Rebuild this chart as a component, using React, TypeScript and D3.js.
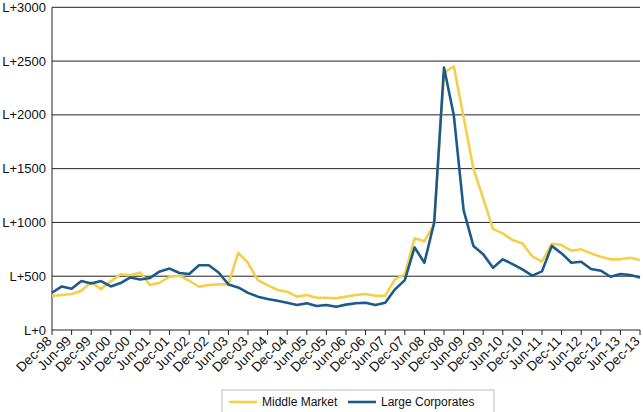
import React from "react";
import * as d3 from "d3";

const tickLabels = [
  "Dec-98","Jun-99","Dec-99","Jun-00","Dec-00","Jun-01","Dec-01","Jun-02","Dec-02","Jun-03",
  "Dec-03","Jun-04","Dec-04","Jun-05","Dec-05","Jun-06","Dec-06","Jun-07","Dec-07","Jun-08",
  "Dec-08","Jun-09","Dec-09","Jun-10","Dec-10","Jun-11","Dec-11","Jun-12","Dec-12","Jun-13","Dec-13",
];

const yTicks = [0, 500, 1000, 1500, 2000, 2500, 3000];

// quarterly observations, Dec-98 .. Dec-13
const middleMarket = [
  316, 325, 334, 365, 445, 380, 452, 518, 508, 534,
  418, 440, 495, 505, 458, 402, 418, 424, 424, 718,
  625, 464, 418, 372, 356, 310, 325, 300, 300, 294,
  310, 325, 334, 319, 319, 471, 517, 852, 825, 985,
  2390, 2452, 1980, 1500, 1225, 938, 898, 836, 805, 685,
  635, 802, 790, 737, 750, 712, 681, 657, 657, 672, 650,
];

const largeCorporates = [
  346, 405, 384, 455, 433, 455, 405, 436, 489, 470,
  484, 545, 571, 530, 520, 602, 602, 535, 424, 396,
  345, 310, 288, 272, 254, 232, 248, 223, 232, 217,
  236, 248, 254, 232, 254, 378, 464, 768, 625, 1000,
  2440, 1997, 1115, 782, 705, 578, 657, 613, 564, 506,
  545, 782, 712, 625, 635, 567, 551, 495, 520, 511, 489,
];

const seriesNames = ["Middle Market", "Large Corporates"];
const colors = ["#F5CF47", "#1C5A8A"];

const W = 643;
const H = 412;
const left = 52;
const right = 640;
const top = 7.3;
const bottom = 330;
const font = "'Liberation Sans', Arial, Helvetica, sans-serif";

export default function App() {
  const n = middleMarket.length;
  const x = d3.scaleLinear().domain([0, n - 1]).range([left, right]);
  const xt = d3.scaleLinear().domain([0, tickLabels.length - 1]).range([left, right]);
  const y = d3.scaleLinear().domain([0, 3000]).range([bottom, top]);
  const line = d3
    .line<number>()
    .x((_, i) => x(i))
    .y((d) => y(d));
  const series = [middleMarket, largeCorporates];

  return (
    <svg
      width={W}
      height={H}
      style={{ position: "absolute", left: 0, top: 0, background: "#fff" }}
      fontFamily={font}
    >
      {yTicks.map((t) => (
        <g key={t}>
          {t > 0 && (
            <line x1={left} x2={right} y1={y(t)} y2={y(t)} stroke="#222" strokeWidth={1} />
          )}
          <text x={left - 6} y={y(t)} dy="0.35em" textAnchor="end" fontSize={13} fill="#111">
            {"L+" + t}
          </text>
        </g>
      ))}
      <line x1={left} x2={left} y1={top} y2={bottom} stroke="#222" strokeWidth={1} />
      <line x1={left} x2={right} y1={bottom} y2={bottom} stroke="#222" strokeWidth={1} />
      {tickLabels.map((l, i) => (
        <g key={l}>
          <line x1={xt(i)} x2={xt(i)} y1={bottom} y2={bottom + 5} stroke="#222" strokeWidth={1} />
          <text
            transform={`translate(${xt(i) + 0.5},${bottom + 12}) rotate(-45)`}
            textAnchor="end"
            fontSize={13.5}
            fill="#111"
          >
            {l}
          </text>
        </g>
      ))}
      {series.map((s, k) => (
        <path
          key={k}
          d={line(s) || ""}
          fill="none"
          stroke={colors[k]}
          strokeWidth={2.6}
          strokeLinejoin="round"
        />
      ))}
      <rect x={222} y={390} width={272} height={24} fill="none" stroke="#bbb" strokeWidth={1} />
      {seriesNames.map((name, k) => {
        const lx = k === 0 ? 229 : 348;
        return (
          <g key={name}>
            <line x1={lx} x2={lx + 28} y1={402} y2={402} stroke={colors[k]} strokeWidth={2.6} />
            <text x={lx + 33} y={402} dy="0.35em" fontSize={12} fill="#111">
              {name}
            </text>
          </g>
        );
      })}
    </svg>
  );
}
